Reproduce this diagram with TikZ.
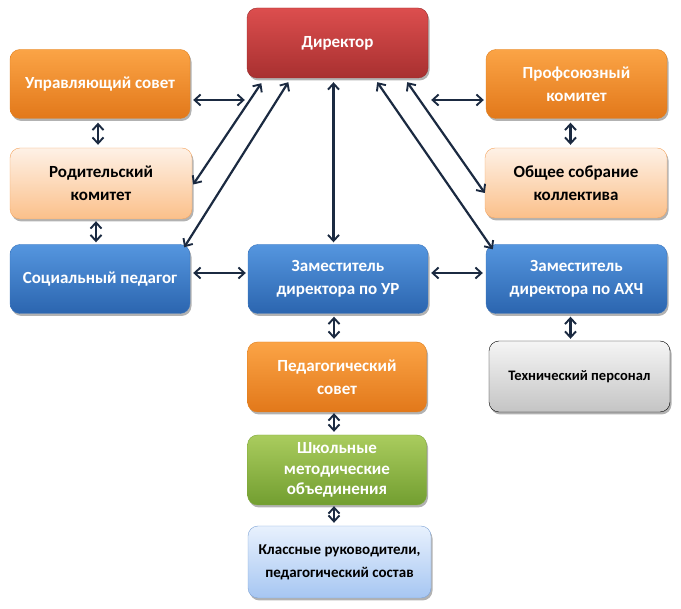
\documentclass[tikz,border=0pt]{standalone}
\usepackage{fontspec}
\setmainfont{Carlito}
\usetikzlibrary{arrows.meta,shadows}
\definecolor{arr}{HTML}{1B2A41}
\tikzset{
  box/.style={rounded corners=10pt, minimum width=180pt, minimum height=69pt,
    align=center, font=\fontsize{17}{23}\selectfont\bfseries, inner sep=2pt,
    drop shadow={shadow xshift=1.5pt, shadow yshift=-2.5pt, opacity=0.3, fill=black}},
  redbox/.style={box, top color=red1, bottom color=red2, draw=red3, text=white},
  orbox/.style={box, top color=or1, bottom color=or2, draw=or3, text=white},
  peachbox/.style={box, top color=pe1, bottom color=pe2, draw=pe3, text=black},
  bluebox/.style={box, top color=bl1, bottom color=bl2, draw=bl3, text=white},
  graybox/.style={box, top color=gr1, bottom color=gr2, draw=black, text=black,
    font=\fontsize{14.5}{20}\selectfont\bfseries},
  greenbox/.style={box, top color=gn1, bottom color=gn2, draw=gn3, text=white},
  lbbox/.style={box, top color=lb1, bottom color=lb2, draw=lb3, text=black,
    font=\fontsize{15}{23}\selectfont\bfseries},
  link/.style={draw=arr, line width=2.2pt, {Straight Barb[length=6pt,width=11pt,line width=1.9pt]}-{Straight Barb[length=6pt,width=11pt,line width=1.9pt]}},
}
\definecolor{red1}{HTML}{DC4E4E}\definecolor{red2}{HTML}{A83030}\definecolor{red3}{HTML}{9A2C2C}
\definecolor{or1}{HTML}{FBA446}\definecolor{or2}{HTML}{E2781A}\definecolor{or3}{HTML}{E0801F}
\definecolor{pe1}{HTML}{FEF1E6}\definecolor{pe2}{HTML}{FBC08A}\definecolor{pe3}{HTML}{F4A662}
\definecolor{bl1}{HTML}{5596DF}\definecolor{bl2}{HTML}{2B65AF}\definecolor{bl3}{HTML}{3A74BC}
\definecolor{gr1}{HTML}{F5F5F5}\definecolor{gr2}{HTML}{C4C4C4}
\definecolor{gn1}{HTML}{AACC5E}\definecolor{gn2}{HTML}{729E30}\definecolor{gn3}{HTML}{7FA83A}
\definecolor{lb1}{HTML}{E8F1FD}\definecolor{lb2}{HTML}{A6C6F2}\definecolor{lb3}{HTML}{7FA4D6}
\begin{document}
\begin{tikzpicture}[x=1pt,y=-1pt]
\useasboundingbox (0,0) rectangle (681,609);
\node[redbox, minimum width=181pt, minimum height=70pt] (dir) at (337.5,43) {Директор};
\node[orbox] (upr) at (100,84) {Управляющий совет};
\node[orbox, minimum width=181pt] (prof) at (576.5,84) {Профсоюзный\\комитет};
\node[peachbox, minimum width=182pt, minimum height=71pt] (rod) at (101,183.5) {Родительский\\комитет};
\node[peachbox, minimum width=182pt, minimum height=70pt] (obsh) at (576,183) {Общее собрание\\коллектива};
\node[bluebox] (soc) at (100,279) {Социальный педагог};
\node[bluebox] (zur) at (338,279) {Заместитель\\директора по УР};
\node[bluebox, minimum width=181pt] (zahch) at (576.5,279) {Заместитель\\директора по АХЧ};
\node[orbox, minimum width=179pt, minimum height=70pt] (ped) at (337,377) {Педагогический\\совет};
\node[graybox, minimum width=181pt, minimum height=71pt] (tech) at (579.5,376.5) {Технический персонал};
\node[greenbox, minimum width=179pt, minimum height=70pt, font=\fontsize{17}{20.5}\selectfont\bfseries] (shmo) at (337,470) {\raisebox{-3pt}{\parbox{170pt}{\centering Школьные\\методические\\объединения}}};
\node[lbbox, minimum width=183pt, minimum height=72pt] (klass) at (339.5,562) {Классные руководители,\\педагогический состав};
% horizontal links
\draw[link] ([xshift=3pt,yshift=-16pt]upr.east) -- ([xshift=-2pt,yshift=-16pt]upr.east -| dir.west);
\draw[link] ([xshift=3pt,yshift=-16pt]prof.west -| dir.east) -- ([xshift=-2pt,yshift=-16pt]prof.west);
\draw[link] ([xshift=3pt,yshift=6pt]soc.east) -- ([xshift=-2pt,yshift=6pt]soc.east -| zur.west);
\draw[link] ([xshift=3pt,yshift=6pt]zur.east) -- ([xshift=-3pt,yshift=6pt]zur.east -| zahch.west);
% vertical short links
\draw[link] ([xshift=-2pt,yshift=-4pt]upr.south) -- ([xshift=-2pt,yshift=3pt]upr.south |- rod.north);
\draw[link] ([xshift=-5pt,yshift=-2pt]rod.south) -- ([xshift=-5pt,yshift=2pt]rod.south |- soc.north);
\draw[link] ([xshift=-6pt,yshift=-4pt]prof.south) -- ([xshift=-6pt,yshift=3pt]prof.south |- obsh.north);
\draw[link] ([xshift=-4pt,yshift=-3pt]zur.south) -- ([xshift=-4pt,yshift=3pt]zur.south |- ped.north);
\draw[link] ([xshift=-6pt,yshift=-3pt]zahch.south) -- ([xshift=-6pt,yshift=2pt]zahch.south |- tech.north);
\draw[link] ([xshift=-3pt,yshift=-1pt]ped.south) -- ([xshift=-3pt,yshift=3pt]ped.south |- shmo.north);
\draw[link] ([xshift=-3pt,yshift=-1pt]shmo.south) -- ([xshift=-3pt,yshift=3pt]shmo.south |- klass.north);
% diagonal links from director
\draw[link] ([xshift=14.5pt,yshift=-5pt]dir.south west) -- ([xshift=1pt,yshift=-1pt]rod.east);
\draw[link] ([xshift=41.5pt,yshift=-4pt]dir.south west) -- ([xshift=-6pt,yshift=-3pt]soc.north east);
\draw[link] ([xshift=-4pt,yshift=-4pt]dir.south) -- ([xshift=-4pt,yshift=2pt]dir.south |- zur.north);
\draw[link] ([xshift=-21pt,yshift=-4pt]dir.south east) -- ([yshift=-10pt]obsh.west);
\draw[link] ([xshift=-51pt,yshift=-4pt]dir.south east) -- ([xshift=7pt,yshift=-5pt]zahch.north west);
\end{tikzpicture}
\end{document}
